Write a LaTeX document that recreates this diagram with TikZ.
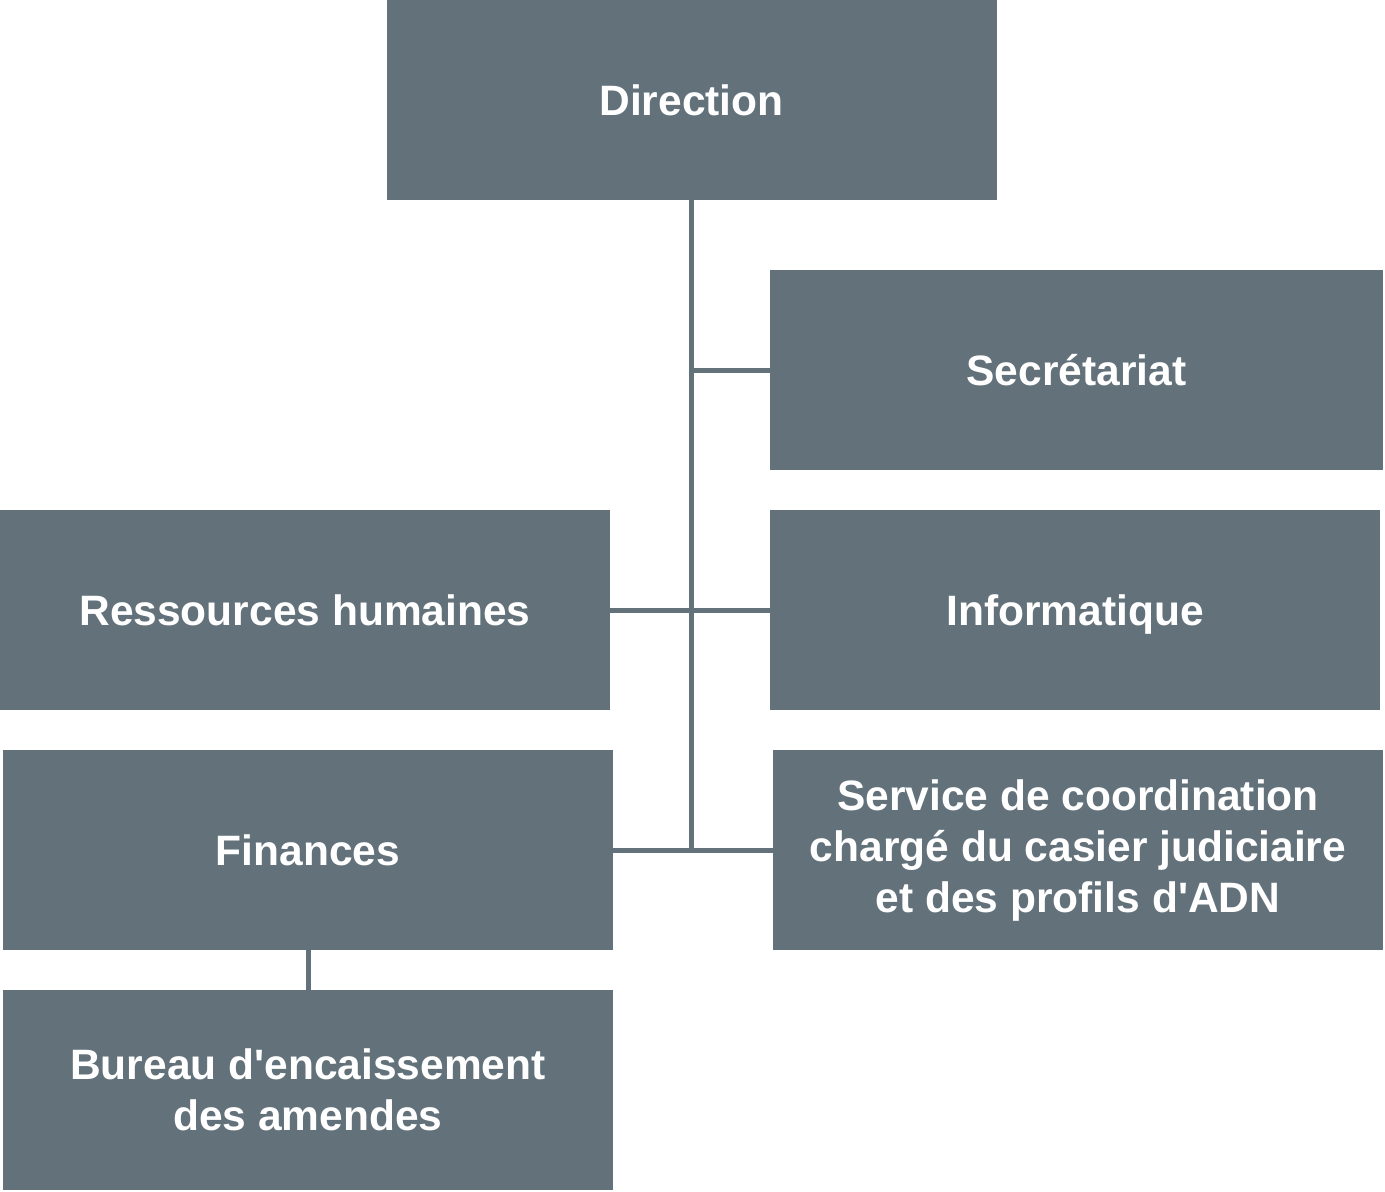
\documentclass[tikz,border=0pt]{standalone}
\usepackage{fontspec}
\setmainfont{Liberation Sans}
\definecolor{boxgray}{RGB}{99,114,122}

\begin{document}
\begin{tikzpicture}[x=1pt, y=-1pt, line width=5pt]
            \useasboundingbox (0,0) rectangle (1385,1192);
            \begin{scope}[every node/.style={rectangle, fill=boxgray, text=white, inner sep=0pt, outer sep=0pt, minimum width=610pt, minimum height=200pt, align=center, font=\fontsize{42.5}{51}\selectfont\bfseries}]
            \node (dir) at (691.5,100) {Direction};
            \node[minimum width=613pt] (sec) at (1076.5,370) {Secrétariat};
            \node (rh) at (305,610) {Ressources humaines};
            \node[text depth=0pt] (inf) at (1075,610) {Informatique};
            \node (fin) at (308,850) {Finances};
            \node (svc) at (1078,850) {Service de coordination\\chargé du casier judiciaire\\et des profils d\textquotesingle ADN};
            \node (bur) at (308,1090) {Bureau d\textquotesingle encaissement\\des amendes};
            \end{scope}
            \begin{scope}[draw=boxgray]
            \draw (dir.south) -- (dir.south |- fin.east);
            \draw (sec.west) -- (sec.west -| dir.south);
            \draw (rh.east) -- (inf.west);
            \draw (fin.east) -- (svc.west);
            \draw (fin.south) -- (bur.north);
            \end{scope}
            \end{tikzpicture}
\end{document}
